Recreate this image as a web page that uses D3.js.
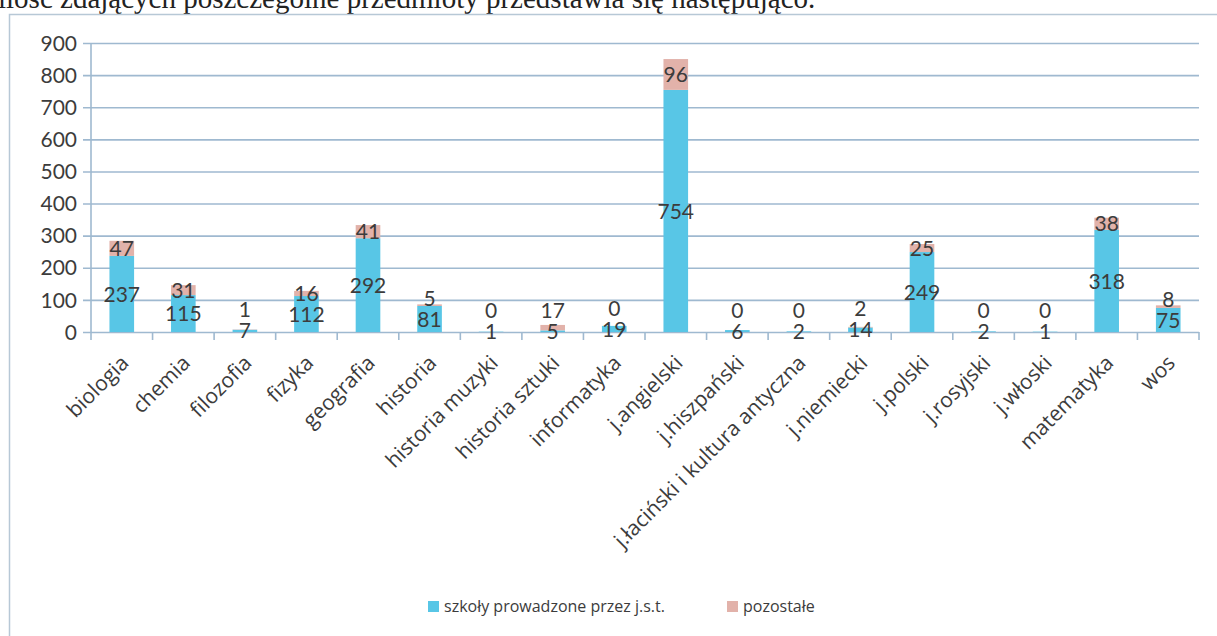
<!DOCTYPE html>
<html>
<head>
<meta charset="utf-8">
<script src="https://cdn.jsdelivr.net/npm/d3@7/dist/d3.min.js"></script>
<style>
  html, body { margin: 0; padding: 0; background: #ffffff; overflow: hidden; }
  svg { display: block; }
</style>
</head>
<body>
<svg id="chart" width="1217" height="636"></svg>
<script>
// ---- data ----
const categories = ["biologia", "chemia", "filozofia", "fizyka", "geografia", "historia",
  "historia muzyki", "historia sztuki", "informatyka", "j.angielski", "j.hiszpański",
  "j.łaciński i kultura antyczna", "j.niemiecki", "j.polski", "j.rosyjski", "j.włoski",
  "matematyka", "wos"];
const jstValues = [237, 115, 7, 112, 292, 81, 1, 5, 19, 754, 6, 2, 14, 249, 2, 1, 318, 75];
const otherValues = [47, 31, 1, 16, 41, 5, 0, 17, 0, 96, 0, 0, 2, 25, 0, 0, 38, 8];
const seriesNames = ["szkoły prowadzone przez j.s.t.", "pozostałe"];
const yTicks = [0, 100, 200, 300, 400, 500, 600, 700, 800, 900];
const headerText = "ilość zdających poszczególne przedmioty przedstawia się następująco.";

// ---- styles ----
const colBlue = "#58c6e6";
const colPink = "#e2b2aa";
const colGrid = "#9fb9d0";
const colText = "#3c3c3c";
const numFont = "Lato, 'Open Sans', sans-serif";
const catFont = "'Open Sans', Lato, sans-serif";

const svg = d3.select("#chart");

// header text of the scanned document (cut at top)
svg.append("text")
  .attr("x", -2).attr("y", 8)
  .attr("font-family", "'Liberation Serif', serif")
  .attr("font-size", 29)
  .attr("fill", "#222")
  .text(headerText);

// chart frame
svg.append("rect")
  .attr("x", 9.5).attr("y", 14.5)
  .attr("width", 1230).attr("height", 640)
  .attr("fill", "none")
  .attr("stroke", "#b7c8d6").attr("stroke-width", 1.5);

const plot = { left: 91, right: 1199, top: 43, bottom: 332 };

const x = d3.scaleBand()
  .domain(categories)
  .range([plot.left, plot.right])
  .paddingInner(0.6)
  .paddingOuter(0.3);

const y = d3.scaleLinear()
  .domain([0, 900])
  .range([plot.bottom, plot.top]);

// gridlines + y tick labels
const yAxis = d3.axisLeft(y)
  .tickValues(yTicks)
  .tickSize(-(plot.right - plot.left))
  .tickPadding(14)
  .tickFormat(d3.format("d"));

const gy = svg.append("g")
  .attr("transform", `translate(${plot.left},0)`)
  .call(yAxis);
gy.select(".domain").remove();
gy.selectAll(".tick line")
  .attr("x1", -8)
  .attr("stroke", colGrid).attr("stroke-width", 1.6);
gy.selectAll(".tick text")
  .attr("font-family", numFont).attr("font-size", 21)
  .attr("fill", colText)
  .attr("dy", "0.34em");

// vertical axis line
svg.append("line")
  .attr("x1", plot.left).attr("x2", plot.left)
  .attr("y1", y(900)).attr("y2", y(0))
  .attr("stroke", colGrid).attr("stroke-width", 1.6);

// x-axis tick marks at band boundaries
const step = x.step();
const boundaries = categories.map(c => x(c) - x.paddingInner() * step / 2)
  .concat([x(categories[categories.length - 1]) + x.bandwidth() + x.paddingInner() * step / 2]);
svg.append("g").selectAll("line")
  .data(boundaries)
  .join("line")
  .attr("x1", d => d).attr("x2", d => d)
  .attr("y1", y(0)).attr("y2", y(0) + 8)
  .attr("stroke", colGrid).attr("stroke-width", 1.6);

// stacked bars
const rows = categories.map((c, i) => ({ cat: c, jst: jstValues[i], other: otherValues[i] }));
const stack = d3.stack().keys(["jst", "other"]);
const stacked = stack(rows);
const colors = [colBlue, colPink];

svg.append("g").selectAll("g")
  .data(stacked)
  .join("g")
  .attr("fill", (d, i) => colors[i])
  .selectAll("rect")
  .data(d => d)
  .join("rect")
  .attr("x", d => x(d.data.cat))
  .attr("width", x.bandwidth())
  .attr("y", d => y(d[1]))
  .attr("height", d => Math.max(0, y(d[0]) - y(d[1])));

// data labels (centered in segments, with simple overlap avoidance)
const labelG = svg.append("g")
  .attr("font-family", numFont).attr("font-size", 21)
  .attr("fill", colText).attr("text-anchor", "middle");

rows.forEach((r, i) => {
  const cx = x(r.cat) + x.bandwidth() / 2;
  const yBlue = y(stacked[0][i][0] / 2 + stacked[0][i][1] / 2);
  let yPink = y(stacked[1][i][0] / 2 + stacked[1][i][1] / 2);
  if (yBlue - yPink < 14) yPink = yBlue - 21;
  labelG.append("text").attr("x", cx).attr("y", yBlue).attr("dy", "0.36em").text(r.jst);
  labelG.append("text").attr("x", cx).attr("y", yPink).attr("dy", "0.36em").text(r.other);
});

// category labels rotated
svg.append("g").selectAll("text")
  .data(categories)
  .join("text")
  .attr("transform", d => `translate(${x(d) + x.bandwidth() / 2 + 3},${y(0) + 27}) rotate(-45)`)
  .attr("text-anchor", "end")
  .attr("dy", "0.35em")
  .attr("font-family", catFont).attr("font-size", 21)
  .attr("fill", colText)
  .text(d => d);

// legend
const legend = svg.append("g").attr("font-family", catFont).attr("font-size", 16).attr("fill", colText);
const legendX = [428, 727];
seriesNames.forEach((name, i) => {
  legend.append("rect")
    .attr("x", legendX[i]).attr("y", 601)
    .attr("width", 11).attr("height", 11)
    .attr("fill", colors[i]);
  legend.append("text")
    .attr("x", legendX[i] + 16).attr("y", 612)
    .text(name);
});
</script>
</body>
</html>
